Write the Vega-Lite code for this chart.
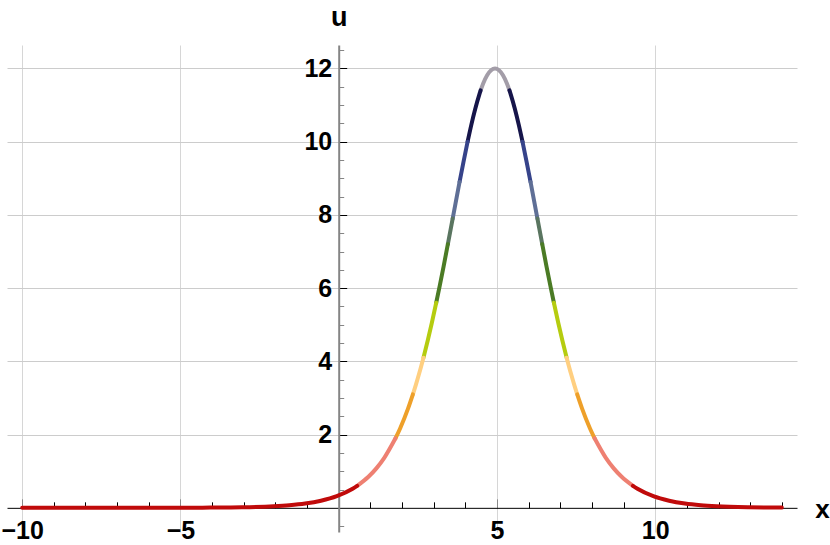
{
  "$schema": "https://vega.github.io/schema/vega-lite/v6.json",
  "width": 790,
  "height": 487,
  "autosize": {"type": "none"},
  "padding": {"left": 7, "top": 45, "right": 33, "bottom": 13},
  "background": "white",
  "config": {"view": {"stroke": null}},
  "data": {"values": [
    {"x": 4.485, "u": 11.4, "seg": "g", "band": "gray"},
    {"x": 4.565, "u": 11.588, "seg": "g", "band": "gray"},
    {"x": 4.69, "u": 11.815, "seg": "g", "band": "gray"},
    {"x": 4.815, "u": 11.953, "seg": "g", "band": "gray"},
    {"x": 4.94, "u": 12.0, "seg": "g", "band": "gray"},
    {"x": 5.065, "u": 11.953, "seg": "g", "band": "gray"},
    {"x": 5.19, "u": 11.815, "seg": "g", "band": "gray"},
    {"x": 5.315, "u": 11.588, "seg": "g", "band": "gray"},
    {"x": 5.395, "u": 11.4, "seg": "g", "band": "gray"},

    {"x": 4.485, "u": 11.4, "seg": "nL", "band": "navy"},
    {"x": 4.44, "u": 11.28, "seg": "nL", "band": "navy"},
    {"x": 4.315, "u": 10.9, "seg": "nL", "band": "navy"},
    {"x": 4.19, "u": 10.459, "seg": "nL", "band": "navy"},
    {"x": 4.073, "u": 10.0, "seg": "nL", "band": "navy"},
    {"x": 5.395, "u": 11.4, "seg": "nR", "band": "navy"},
    {"x": 5.44, "u": 11.28, "seg": "nR", "band": "navy"},
    {"x": 5.565, "u": 10.9, "seg": "nR", "band": "navy"},
    {"x": 5.69, "u": 10.459, "seg": "nR", "band": "navy"},
    {"x": 5.807, "u": 10.0, "seg": "nR", "band": "navy"},

    {"x": 4.073, "u": 10.0, "seg": "bL", "band": "blue"},
    {"x": 3.94, "u": 9.437, "seg": "bL", "band": "blue"},
    {"x": 3.819, "u": 8.9, "seg": "bL", "band": "blue"},
    {"x": 5.807, "u": 10.0, "seg": "bR", "band": "blue"},
    {"x": 5.94, "u": 9.437, "seg": "bR", "band": "blue"},
    {"x": 6.061, "u": 8.9, "seg": "bR", "band": "blue"},

    {"x": 3.819, "u": 8.9, "seg": "sL", "band": "slate"},
    {"x": 3.69, "u": 8.309, "seg": "sL", "band": "slate"},
    {"x": 3.601, "u": 7.9, "seg": "sL", "band": "slate"},
    {"x": 6.061, "u": 8.9, "seg": "sR", "band": "slate"},
    {"x": 6.19, "u": 8.309, "seg": "sR", "band": "slate"},
    {"x": 6.279, "u": 7.9, "seg": "sR", "band": "slate"},

    {"x": 3.601, "u": 7.9, "seg": "ggL", "band": "greygreen"},
    {"x": 3.54, "u": 7.617, "seg": "ggL", "band": "greygreen"},
    {"x": 3.449, "u": 7.2, "seg": "ggL", "band": "greygreen"},
    {"x": 6.279, "u": 7.9, "seg": "ggR", "band": "greygreen"},
    {"x": 6.34, "u": 7.617, "seg": "ggR", "band": "greygreen"},
    {"x": 6.431, "u": 7.2, "seg": "ggR", "band": "greygreen"},

    {"x": 3.449, "u": 7.2, "seg": "grL", "band": "green"},
    {"x": 3.315, "u": 6.597, "seg": "grL", "band": "green"},
    {"x": 3.19, "u": 6.054, "seg": "grL", "band": "green"},
    {"x": 3.081, "u": 5.6, "seg": "grL", "band": "green"},
    {"x": 6.431, "u": 7.2, "seg": "grR", "band": "green"},
    {"x": 6.565, "u": 6.597, "seg": "grR", "band": "green"},
    {"x": 6.69, "u": 6.054, "seg": "grR", "band": "green"},
    {"x": 6.799, "u": 5.6, "seg": "grR", "band": "green"},

    {"x": 3.081, "u": 5.6, "seg": "ygL", "band": "yellowgreen"},
    {"x": 2.94, "u": 5.04, "seg": "ygL", "band": "yellowgreen"},
    {"x": 2.815, "u": 4.575, "seg": "ygL", "band": "yellowgreen"},
    {"x": 2.678, "u": 4.1, "seg": "ygL", "band": "yellowgreen"},
    {"x": 6.799, "u": 5.6, "seg": "ygR", "band": "yellowgreen"},
    {"x": 6.94, "u": 5.04, "seg": "ygR", "band": "yellowgreen"},
    {"x": 7.065, "u": 4.575, "seg": "ygR", "band": "yellowgreen"},
    {"x": 7.202, "u": 4.1, "seg": "ygR", "band": "yellowgreen"},

    {"x": 2.678, "u": 4.1, "seg": "pL", "band": "peach"},
    {"x": 2.54, "u": 3.66, "seg": "pL", "band": "peach"},
    {"x": 2.44, "u": 3.365, "seg": "pL", "band": "peach"},
    {"x": 2.344, "u": 3.1, "seg": "pL", "band": "peach"},
    {"x": 7.202, "u": 4.1, "seg": "pR", "band": "peach"},
    {"x": 7.34, "u": 3.66, "seg": "pR", "band": "peach"},
    {"x": 7.44, "u": 3.365, "seg": "pR", "band": "peach"},
    {"x": 7.536, "u": 3.1, "seg": "pR", "band": "peach"},

    {"x": 2.344, "u": 3.1, "seg": "oL", "band": "orange"},
    {"x": 2.19, "u": 2.71, "seg": "oL", "band": "orange"},
    {"x": 1.94, "u": 2.168, "seg": "oL", "band": "orange"},
    {"x": 1.795, "u": 1.9, "seg": "oL", "band": "orange"},
    {"x": 7.536, "u": 3.1, "seg": "oR", "band": "orange"},
    {"x": 7.69, "u": 2.71, "seg": "oR", "band": "orange"},
    {"x": 7.94, "u": 2.168, "seg": "oR", "band": "orange"},
    {"x": 8.085, "u": 1.9, "seg": "oR", "band": "orange"},

    {"x": 1.795, "u": 1.9, "seg": "saL", "band": "salmon"},
    {"x": 1.44, "u": 1.366, "seg": "saL", "band": "salmon"},
    {"x": 1.19, "u": 1.078, "seg": "saL", "band": "salmon"},
    {"x": 0.94, "u": 0.848, "seg": "saL", "band": "salmon"},
    {"x": 0.583, "u": 0.6, "seg": "saL", "band": "salmon"},
    {"x": 8.085, "u": 1.9, "seg": "saR", "band": "salmon"},
    {"x": 8.44, "u": 1.366, "seg": "saR", "band": "salmon"},
    {"x": 8.69, "u": 1.078, "seg": "saR", "band": "salmon"},
    {"x": 8.94, "u": 0.848, "seg": "saR", "band": "salmon"},
    {"x": 9.297, "u": 0.6, "seg": "saR", "band": "salmon"},

    {"x": 0.583, "u": 0.6, "seg": "rL", "band": "red"},
    {"x": 0.44, "u": 0.522, "seg": "rL", "band": "red"},
    {"x": -0.06, "u": 0.319, "seg": "rL", "band": "red"},
    {"x": -0.56, "u": 0.195, "seg": "rL", "band": "red"},
    {"x": -1.06, "u": 0.118, "seg": "rL", "band": "red"},
    {"x": -1.56, "u": 0.072, "seg": "rL", "band": "red"},
    {"x": -2.06, "u": 0.044, "seg": "rL", "band": "red"},
    {"x": -3.06, "u": 0.016, "seg": "rL", "band": "red"},
    {"x": -4.06, "u": 0.006, "seg": "rL", "band": "red"},
    {"x": -5.06, "u": 0.002, "seg": "rL", "band": "red"},
    {"x": -7.06, "u": 0.0003, "seg": "rL", "band": "red"},
    {"x": -10.0, "u": 0.0, "seg": "rL", "band": "red"},
    {"x": 9.297, "u": 0.6, "seg": "rR", "band": "red"},
    {"x": 9.44, "u": 0.522, "seg": "rR", "band": "red"},
    {"x": 9.94, "u": 0.319, "seg": "rR", "band": "red"},
    {"x": 10.44, "u": 0.195, "seg": "rR", "band": "red"},
    {"x": 10.94, "u": 0.118, "seg": "rR", "band": "red"},
    {"x": 11.44, "u": 0.072, "seg": "rR", "band": "red"},
    {"x": 11.94, "u": 0.044, "seg": "rR", "band": "red"},
    {"x": 12.94, "u": 0.016, "seg": "rR", "band": "red"},
    {"x": 14.0, "u": 0.006, "seg": "rR", "band": "red"}
  ]},
  "layer": [
    {
      "mark": {"type": "line", "strokeWidth": 4, "interpolate": "monotone", "strokeCap": "round"},
      "encoding": {
        "x": {
          "field": "x", "type": "quantitative",
          "scale": {"domain": [-10.48, 14.48], "nice": false, "zero": false},
          "axis": {
            "orient": "bottom", "offset": -24.16,
            "values": [-10, -5, 5, 10],
            "grid": true, "gridColor": "#d6d6d6", "gridWidth": 1,
            "domainColor": "#000000", "domainWidth": 1,
            "tickSize": -9, "tickColor": "#8a8a8a", "tickWidth": 1,
            "labelFont": "Liberation Sans", "labelFontWeight": "bold", "labelFontSize": 25,
            "labelColor": "#000000", "labelPadding": 20, "labelBaseline": "top",
            "title": "x", "titleX": 815, "titleY": 10, "titleAlign": "center",
            "titleBaseline": "alphabetic", "titleAngle": 0,
            "titleFont": "Liberation Sans", "titleFontWeight": "bold", "titleFontSize": 26,
            "titleColor": "#000000"
          }
        },
        "y": {
          "field": "u", "type": "quantitative",
          "scale": {"domain": [-0.66, 12.64], "nice": false, "zero": false},
          "axis": {
            "orient": "left", "offset": -331.7,
            "values": [2, 4, 6, 8, 10, 12],
            "grid": true, "gridColor": "#cccccc", "gridWidth": 1,
            "domainColor": "#858585", "domainWidth": 2,
            "tickSize": -8, "tickColor": "#000000", "tickWidth": 1,
            "labelFont": "Liberation Sans", "labelFontWeight": "bold", "labelFontSize": 25,
            "labelColor": "#000000", "labelPadding": 15, "labelBaseline": "middle", "labelAlign": "right",
            "title": "u", "titleX": 0, "titleY": -20, "titleAlign": "center",
            "titleBaseline": "alphabetic", "titleAngle": 0,
            "titleFont": "Liberation Sans", "titleFontWeight": "bold", "titleFontSize": 27,
            "titleColor": "#000000"
          }
        },
        "color": {
          "field": "band", "type": "nominal",
          "scale": {
            "domain": ["gray", "navy", "blue", "slate", "greygreen", "green", "yellowgreen", "peach", "orange", "salmon", "red"],
            "range": ["#a39da8", "#16154a", "#36438a", "#5f6f96", "#5a7560", "#4b7b25", "#b5cc10", "#ffcf80", "#eea02a", "#ee8072", "#c00a0a"]
          },
          "legend": null
        },
        "detail": {"field": "seg", "type": "nominal"}
      }
    },
    {
      "mark": {"type": "point", "opacity": 0},
      "encoding": {
        "x": {
          "field": "x", "type": "quantitative",
          "axis": {
            "orient": "bottom", "offset": -24.16,
            "values": [-9, -8, -7, -6, -4, -3, -2, -1, 1, 2, 3, 4, 6, 7, 8, 9, 11, 12, 13, 14],
            "grid": false, "labels": false, "domain": false,
            "tickSize": -6, "tickColor": "#000000", "tickWidth": 1, "title": null
          }
        },
        "y": {
          "field": "u", "type": "quantitative",
          "axis": {
            "orient": "left", "offset": -331.7,
            "values": [-0.5, 0.5, 1, 1.5, 2.5, 3, 3.5, 4.5, 5, 5.5, 6.5, 7, 7.5, 8.5, 9, 9.5, 10.5, 11, 11.5, 12.5],
            "grid": false, "labels": false, "domain": false,
            "tickSize": -5, "tickColor": "#858585", "tickWidth": 1, "title": null
          }
        }
      }
    }
  ],
  "resolve": {"axis": {"x": "independent", "y": "independent"}}
}
